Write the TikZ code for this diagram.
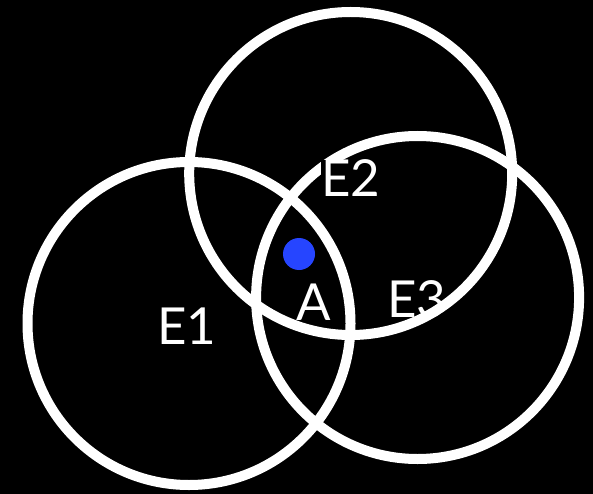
\documentclass[tikz,border=0pt]{standalone}
\usepackage{fontspec}
\setmainfont{Lato}
\begin{document}
\begin{tikzpicture}[x=1pt,y=-1pt,
  ring/.style={draw=white,line width=10pt},
  lbl/.style={text=white,font=\fontsize{51}{51}\selectfont,inner sep=0pt}]
\fill[black] (0,0) rectangle (593,494);
\useasboundingbox (0,0) rectangle (593,494);
\node[lbl] (e3) at (417,299) {E3};
\draw[ring] (189,323.5) circle (161.5);
\draw[ring] (417.6,297.5) circle (161.5);
\node[lbl,fill=black] (e2) at (351,178.5) {E2};
\draw[ring] (350.7,173.5) circle (161.5);
\node[lbl] (e1) at (187,326) {E1};
\node[lbl] (a) at (314,302) {A};
\fill[fill={rgb,255:red,38;green,69;blue,255}] (299,254) circle (16);
\end{tikzpicture}
\end{document}
